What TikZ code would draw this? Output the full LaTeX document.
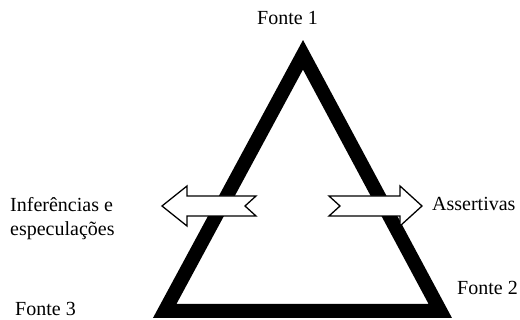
\documentclass[tikz,border=0pt]{standalone}
\usepackage{fontspec}
\setmainfont{Liberation Serif}
\begin{document}
\begin{tikzpicture}[x=1pt,y=-1pt,
  lbl/.style={anchor=base west,inner sep=0pt,font=\fontsize{20}{24}\selectfont},
  frame/.style={draw=black,line width=14pt,line join=miter,miter limit=10},
  hollow/.style={draw=black,fill=white,line width=1.3pt,line join=miter}]
\useasboundingbox (0,0) rectangle (520,320);
% the thick triangle of the three sources
\coordinate (top) at (303,54.8);
\coordinate (bl) at (164.7,311);
\coordinate (br) at (440.3,311);
\draw[frame] (top) -- (bl) -- (br) -- cycle;
% hollow notched arrows across the sides
\draw[hollow] (162,206) -- (187,186) -- (187,196) -- (256,196) -- (245,206)
  -- (256,216) -- (187,216) -- (187,226) -- cycle;
\draw[hollow] (329,196) -- (400,196) -- (400,186) -- (422,206) -- (400,226)
  -- (400,216) -- (329,216) -- (340,206) -- cycle;
% labels
\node[lbl] (f1) at (257,25) {Fonte 1};
\node[lbl] (f2) at (457,295) {Fonte 2};
\node[lbl] (f3) at (15,315.5) {Fonte 3};
\node[lbl] (inf) at (10,212) {Inferências e};
\node[lbl] (esp) at (10,236) {especulações};
\node[lbl] (ass) at (432,211) {Assertivas};
\end{tikzpicture}
\end{document}
